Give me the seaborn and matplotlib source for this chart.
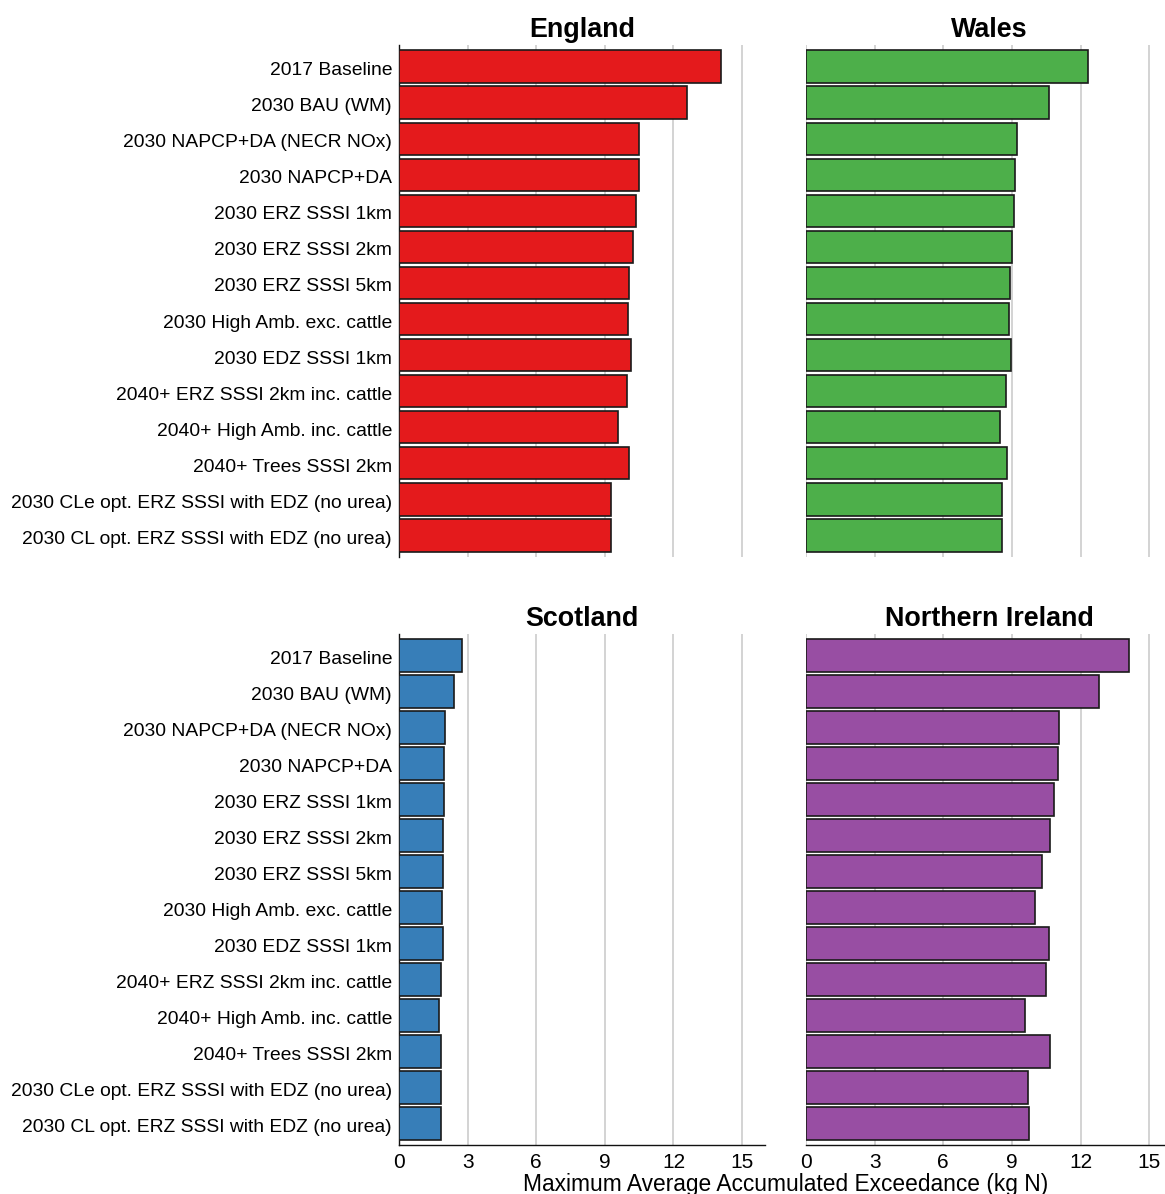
import matplotlib
matplotlib.use("Agg")
import matplotlib.pyplot as plt
import matplotlib.transforms as mtransforms
import seaborn as sns
import pandas as pd

scenarios = [
    "2017 Baseline",
    "2030 BAU (WM)",
    "2030 NAPCP+DA (NECR NOx)",
    "2030 NAPCP+DA",
    "2030 ERZ SSSI 1km",
    "2030 ERZ SSSI 2km",
    "2030 ERZ SSSI 5km",
    "2030 High Amb. exc. cattle",
    "2030 EDZ SSSI 1km",
    "2040+ ERZ SSSI 2km inc. cattle",
    "2040+ High Amb. inc. cattle",
    "2040+ Trees SSSI 2km",
    "2030 CLe opt. ERZ SSSI with EDZ (no urea)",
    "2030 CL opt. ERZ SSSI with EDZ (no urea)",
]

england = [14.07, 12.58, 10.51, 10.48, 10.35, 10.25, 10.07, 10.00, 10.16, 9.96, 9.56, 10.04, 9.28, 9.28]
wales = [12.33, 10.61, 9.22, 9.14, 9.09, 9.00, 8.90, 8.87, 8.97, 8.74, 8.48, 8.80, 8.56, 8.56]
scotland = [2.75, 2.39, 2.00, 1.97, 1.97, 1.94, 1.91, 1.88, 1.94, 1.85, 1.76, 1.85, 1.85, 1.85]
northern_ireland = [14.11, 12.83, 11.05, 11.02, 10.82, 10.67, 10.32, 10.02, 10.61, 10.47, 9.59, 10.67, 9.71, 9.74]

regions = ["England", "Wales", "Scotland", "Northern Ireland"]
region_values = [england, wales, scotland, northern_ireland]
region_colors = ["#E41A1C", "#4DAF4A", "#377EB8", "#984EA3"]

x_ticks = [0, 3, 6, 9, 12, 15]
x_label = "Maximum Average Accumulated Exceedance (kg N)"

sns.set_style("white")
plt.rcParams["font.family"] = ["Liberation Sans", "DejaVu Sans"]
plt.rcParams["text.color"] = "black"

W, H = 1165, 1194
fig = plt.figure(figsize=(W / 100, H / 100), dpi=100)

def px_axes(left, top, right, bottom):
    return fig.add_axes([left / W, 1 - bottom / H, (right - left) / W, (bottom - top) / H])

panel_boxes = [
    (399, 45, 765, 557),
    (806, 45, 1172, 557),
    (399, 634, 765, 1145),
    (806, 634, 1172, 1145),
]

# nudge category labels down slightly so they sit centred on the bars
label_shift = mtransforms.ScaledTranslation(0, -2 / 100, fig.dpi_scale_trans)

n = len(scenarios)
for i, (name, vals, col, box) in enumerate(zip(regions, region_values, region_colors, panel_boxes)):
    ax = px_axes(*box)
    df = pd.DataFrame({"scenario": scenarios, "value": vals})
    sns.barplot(data=df, x="value", y="scenario", orient="h", color=col,
                saturation=1, edgecolor="#1a1a1a", linewidth=1.2, width=0.9, ax=ax, zorder=3)
    ax.set_xlim(0, 16)
    ax.set_ylim(n - 1 + 0.6, -0.6)
    ax.set_xticks(x_ticks)
    ax.grid(axis="x", color="#cccccc", linewidth=1.2, zorder=0)
    ax.grid(axis="y", visible=False)
    ax.set_axisbelow(True)
    ax.set_xlabel("")
    ax.set_ylabel("")
    ax.set_title(name, fontsize=19.4, fontweight="bold", pad=6, color="black")
    for s in ["top", "right"]:
        ax.spines[s].set_visible(False)
    left_col = i % 2 == 0
    bottom_row = i >= 2
    if left_col:
        ax.spines["left"].set_visible(True)
        ax.spines["left"].set_color("#111111")
        ax.spines["left"].set_linewidth(1.0)
        ax.tick_params(axis="y", length=4, width=1, color="#333333", pad=1,
                       labelsize=13.9, labelcolor="black")
        for lab in ax.get_yticklabels():
            lab.set_transform(lab.get_transform() + label_shift)
    else:
        ax.spines["left"].set_visible(False)
        ax.tick_params(axis="y", length=0, labelleft=False)
    if bottom_row:
        ax.spines["bottom"].set_visible(True)
        ax.spines["bottom"].set_color("#111111")
        ax.spines["bottom"].set_linewidth(1.0)
        ax.tick_params(axis="x", length=4, width=1, color="#333333", pad=2,
                       labelsize=15, labelcolor="black")
    else:
        ax.spines["bottom"].set_visible(False)
        ax.tick_params(axis="x", length=0, labelbottom=False)

fig.text(785.5 / W, 1 - 1173 / H, x_label, ha="center", va="top", fontsize=16.4, color="black")

fig.savefig("out.png", dpi=100)
